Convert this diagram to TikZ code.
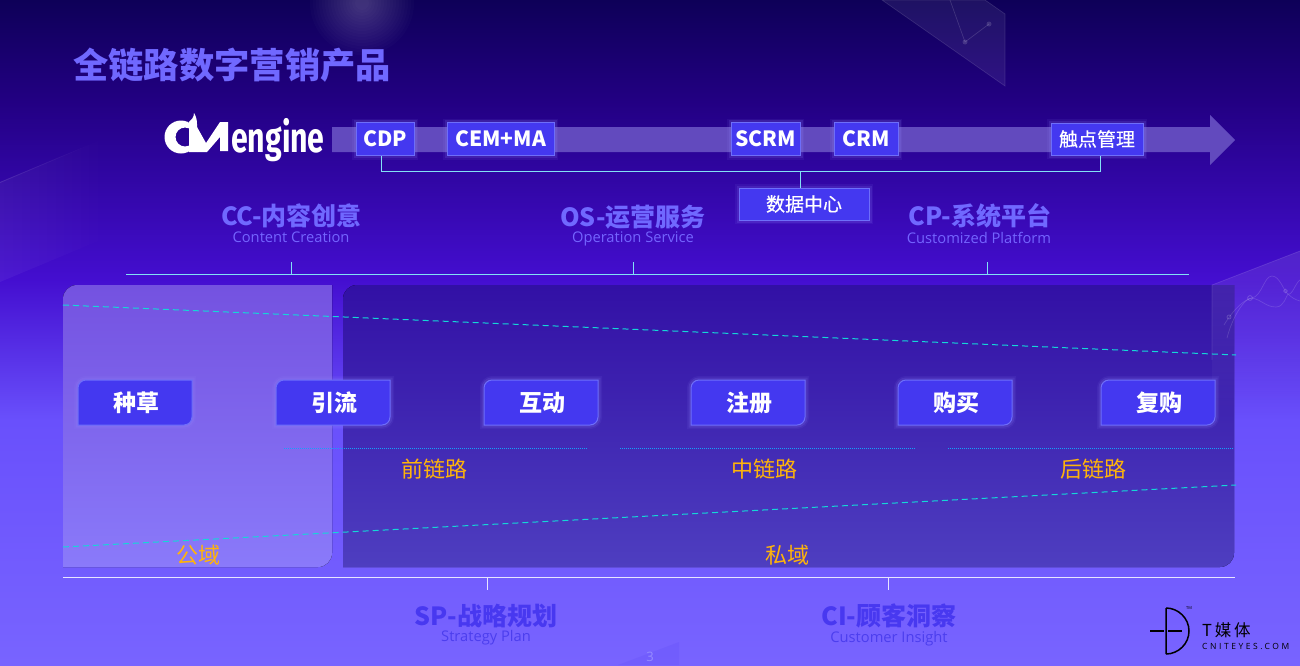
\documentclass[tikz,border=0pt]{standalone}
\usepackage{fontspec}
\setmainfont{Noto Sans CJK SC}
\newfontfamily\medf[FakeBold=0.5]{Noto Sans CJK SC}
\newfontfamily\latinf{Open Sans}
\newfontfamily\condf{Fira Sans}
\newfontfamily\spacedf[LetterSpace=30]{Open Sans}
\usetikzlibrary{calc,fadings}
\definecolor{bgA}{RGB}{14,0,88}
\definecolor{bgB}{RGB}{34,0,130}
\definecolor{bgC}{RGB}{68,14,208}
\definecolor{bgD}{RGB}{105,80,252}
\definecolor{bgE}{RGB}{120,100,255}
\definecolor{boxfill}{RGB}{68,56,240}
\definecolor{boxedge}{RGB}{110,110,250}
\definecolor{glowc}{RGB}{150,140,255}
\definecolor{headc}{RGB}{112,104,255}
\definecolor{subc}{RGB}{116,100,255}
\definecolor{darkhead}{RGB}{72,56,240}
\definecolor{darksub}{RGB}{76,62,238}
\definecolor{linec}{RGB}{130,225,245}
\definecolor{dashc}{RGB}{20,215,215}
\definecolor{dotc}{RGB}{20,160,250}
\definecolor{orangec}{RGB}{255,180,10}
\definecolor{bandc}{RGB}{98,74,190}
\definecolor{privA}{RGB}{50,16,165}
\definecolor{privB}{RGB}{78,62,192}
\definecolor{pubA}{RGB}{116,82,224}
\definecolor{pubB}{RGB}{138,122,250}
\pgfdeclareverticalshading{pagebg}{100bp}{
  color(0bp)=(bgE); color(25bp)=(bgE); color(43.4bp)=(bgD); color(54bp)=(bgC); color(67.5bp)=(bgB); color(75bp)=(bgA); color(100bp)=(bgA)}
\pgfdeclareverticalshading{privbg}{100bp}{
  color(0bp)=(privB); color(25bp)=(privB); color(75bp)=(privA); color(100bp)=(privA)}
\pgfdeclareverticalshading{pubbg}{100bp}{
  color(0bp)=(pubB); color(25bp)=(pubB); color(75bp)=(pubA); color(100bp)=(pubA)}
\tikzset{
  x=1pt,y=-1pt,
  glowbox/.style={fill=boxfill,draw=boxedge,line width=1pt,text=white,
    inner sep=0pt,anchor=center,
    preaction={draw=glowc,draw opacity=.08,line width=8pt},
    preaction={draw=glowc,draw opacity=.14,line width=5pt}},
  topbox/.style={glowbox,font=\bfseries\fontsize{21}{21}\selectfont,minimum height=33pt},
  flowshape/.style={fill=boxfill,draw=boxedge,line width=1pt,
    preaction={draw=glowc,draw opacity=.08,line width=8pt},
    preaction={draw=glowc,draw opacity=.14,line width=5pt}},
  flowtext/.style={text=white,font=\bfseries\fontsize{23}{23}\selectfont,inner sep=0pt},
  headtext/.style={font=\bfseries\fontsize{25}{25}\selectfont,inner sep=0pt},
  subtext/.style={font=\latinf\fontsize{14.7}{15}\selectfont,inner sep=0pt},
  regiontext/.style={text=orangec,font=\fontsize{22}{22}\selectfont,inner sep=0pt},
  hair/.style={draw=linec,line width=.9pt},
  whitehair/.style={draw=white!85!bgD,line width=.9pt},
  dashline/.style={draw=dashc,line width=1pt,dash pattern=on 6pt off 4pt},
  dotline/.style={draw=dotc,line width=1pt,dash pattern=on 1pt off 1pt},
  plate/.style={fill=white,fill opacity=.07,draw=white,draw opacity=.12,line width=.7pt},
  platemark/.style={draw=white,draw opacity=.14,line width=.7pt},
  platedot/.style={fill=white,fill opacity=.14},
}
\newcommand{\flowbox}[3]{%
  \path[flowshape] (#2-57,402) [rounded corners=8pt] -- (#2-57,380) [sharp corners] -- (#2+57,380) -- (#2+57,402) [rounded corners=8pt] -- (#2+57,425) [sharp corners] -- (#2-57,425) -- cycle;
  \node[flowtext] (#1) at (#2+1,403) {#3};}
\begin{document}
\begin{tikzpicture}
\useasboundingbox (0,0) rectangle (1300,665);
\fill[shading=pagebg,shading angle=0] (0,0) rectangle (1300,665);

% faint decoration
\path[plate] (882,0) -- (985,0) -- (1005,14) -- (1005,86) -- cycle;
\draw[platemark] (950,0) -- (965,42) -- (989,24);
\fill[platedot] (965,42) circle (2.5) (989,24) circle (2.5);
\path[fill=white,fill opacity=.05,path fading=east] (0,182) -- (110,136) -- (110,236) -- (0,282) -- cycle;
\path[fill=white,fill opacity=.1,path fading=east] (0,182) -- (90,144) -- (90,145) -- (0,183) -- cycle;
\foreach \i in {1,...,16}
  \fill[white,fill opacity=.014] (362,3) circle ({3*\i+4});

% title
\node[anchor=west,inner sep=0pt,text=headc,font=\bfseries\fontsize{35.3}{35}\selectfont] (title) at (73,65) {全链路数字营销产品};

% logo
\fill[white,even odd rule] (181,137) circle (16.5) (185,137) circle (9.5);
\fill[white] (194,113) .. controls (194,118) and (191,120) .. (189,122) -- (189,152) -- (197,152) -- (197,124) .. controls (197,120) and (196,116) .. (194,113) -- cycle;
\fill[white] (197,152) -- (197,127) -- (206,143) -- (220,122) -- (228,122) -- (228,151) -- (220,151) -- (220,137) -- (207,152) -- cycle;
\node[anchor=base west,inner sep=0pt,text=white,font=\condf\bfseries\fontsize{42}{42}\selectfont] (logotext) at (231,152) {\scalebox{.72}[1]{engine}};

% arrow band
\fill[bandc] (332,127) -- (1210,127) -- (1210,115) -- (1235,140) -- (1210,165) -- (1210,152) -- (332,152) -- cycle;

% top boxes
\node[topbox,minimum width=58pt] (cdp) at (385,139) {CDP};
\node[topbox,minimum width=107pt] (cem) at (500.5,139) {CEM+MA};
\node[topbox,minimum width=69pt] (scrm) at (765.5,139) {SCRM};
\node[topbox,minimum width=64pt] (crm) at (866,139) {CRM};
\node[topbox,minimum width=92pt,minimum height=32pt,font=\medf\fontsize{19}{19}\selectfont] (touch) at (1097,139) {触点管理};
\node[topbox,minimum width=130pt,minimum height=32pt,font=\medf\fontsize{19}{19}\selectfont] (data) at (804,204) {数据中心};

% bracket
\coordinate (bl) at (381,171);
\coordinate (br) at (1100,171);
\coordinate (bm) at (800,171);
\draw[hair] ([xshift=-4pt]cdp.south) -- (bl) -- (br) -- ([xshift=3pt]touch.south);
\draw[hair] (bm) -- ([xshift=-4pt]data.north);

% column heads
\node[headtext,text=headc] (cc) at (291.5,216) {CC-内容创意};
\node[subtext,text=subc] (ccs) at (291,237.5) {Content Creation};
\node[headtext,text=headc] (os) at (633,217) {OS-运营服务};
\node[subtext,text=subc] (oss) at (633,238.5) {Operation Service};
\node[headtext,text=headc] (cp) at (980,216) {CP-系统平台};
\node[subtext,text=subc] (cps) at (979,237.5) {Customized Platform};

\coordinate (h1) at (126,274);
\coordinate (h2) at (1189,274);
\draw[hair] (h1) -- (h2);
\foreach \xx/\n in {291/ta,633/tb,987/tc}{
  \coordinate (\n) at (\xx,262);
  \draw[hair] (\n) -- (\xx,274);}

% panels
\fill[shading=privbg,shading angle=0] (343,400) [rounded corners=14pt] -- (343,285) [sharp corners] -- (1234,285) -- (1234,400) [rounded corners=14pt] -- (1234,567) [sharp corners] -- (343,567) -- cycle;
\fill[shading=pubbg,shading angle=0] (63,400) [rounded corners=14pt] -- (63,285) [sharp corners] -- (332,285) -- (332,400) [rounded corners=14pt] -- (332,567) [sharp corners] -- (63,567) -- cycle;

% right and bottom plates (over the panels)
\path[fill=white,fill opacity=.1,path fading=south] (1212,285) -- (1300,251) -- (1300,420) -- (1212,420) -- cycle;
\draw[white,draw opacity=.12,line width=.8pt] (1212,360) -- (1212,285) -- (1300,251);
\draw[platemark] (1224,325) .. controls (1236,305) and (1248,298) .. (1252,298) .. controls (1262,296) and (1264,276) .. (1272,276) .. controls (1280,276) and (1284,292) .. (1288,294) .. controls (1292,296) and (1296,282) .. (1300,280);
\draw[platemark] (1227,338) .. controls (1232,318) and (1244,298) .. (1252,298) .. controls (1262,300) and (1266,307) .. (1276,307) .. controls (1284,307) and (1286,296) .. (1288,294) .. controls (1292,298) and (1296,300) .. (1300,301);
\draw[white,draw opacity=.2,line width=.7pt] (1229,317) circle (2) (1250,298) circle (2.4) (1285.5,291) circle (1.8);
\path[fill=darkhead,fill opacity=.12] (618,665) -- (679,642) -- (679,665) -- cycle;

% dashed and dotted lines
\coordinate (d1) at (63,305); \coordinate (d2) at (1236,355);
\coordinate (d3) at (63,547); \coordinate (d4) at (1236,485);
\draw[dashline] (d1) -- (d2);
\draw[dashline] (d3) -- (d4);
\foreach \a/\b/\n in {284/588/p,620/916/q,948/1234/r}{
  \coordinate (\n a) at (\a,448); \coordinate (\n b) at (\b,448);
  \draw[dotline] (\n a) -- (\n b);}

% flow boxes
\flowbox{f1}{135}{种草}
\flowbox{f2}{333}{引流}
\flowbox{f3}{541}{互动}
\flowbox{f4}{748}{注册}
\flowbox{f5}{955}{购买}
\flowbox{f6}{1158}{复购}

% region labels
\node[regiontext] (l1) at (434,469) {前链路};
\node[regiontext] (l2) at (764,469) {中链路};
\node[regiontext] (l3) at (1093,469) {后链路};
\node[regiontext] (l4) at (198,555) {公域};
\node[regiontext] (l5) at (787,555) {私域};

% bottom rule
\coordinate (g1) at (63,577); \coordinate (g2) at (1235,577);
\draw[whitehair] (g1) -- (g2);
\foreach \xx/\n in {487/ua,888/ub}{
  \coordinate (\n) at (\xx,590);
  \draw[whitehair] (\xx,577) -- (\n);}
\node[headtext,text=darkhead] (sp) at (486,616) {SP-战略规划};
\node[subtext,text=darksub] (sps) at (486,637.5) {Strategy Plan};
\node[headtext,text=darkhead] (ci) at (889,616) {CI-顾客洞察};
\node[subtext,text=darksub] (cis) at (889,638.5) {Customer Insight};
\node[text=glowc,inner sep=0pt,font=\latinf\fontsize{13}{13}\selectfont] (pg) at (650,657) {3};

% T media logo
\draw[black,line width=1.5pt] (1166,608) -- (1166,654) (1166,608) .. controls (1178,608) and (1189,618) .. (1189,631) .. controls (1189,644) and (1178,654) .. (1166,654);
\draw[black,line width=1.5pt] (1150,631) -- (1164,631) (1168,631) -- (1182,631);
\node[anchor=west,inner sep=0pt,text=black,font=\fontsize{16.5}{17}\selectfont] (tm) at (1202,630) {T\,媒\,体};
\node[anchor=west,inner sep=0pt,text=black,font=\spacedf\fontsize{8.5}{9}\selectfont] (cn) at (1202,646) {CNITEYES.COM};
\node[inner sep=0pt,text=black,font=\latinf\fontsize{4}{4}\selectfont] (tmk) at (1189,608) {TM};
\end{tikzpicture}
\end{document}
